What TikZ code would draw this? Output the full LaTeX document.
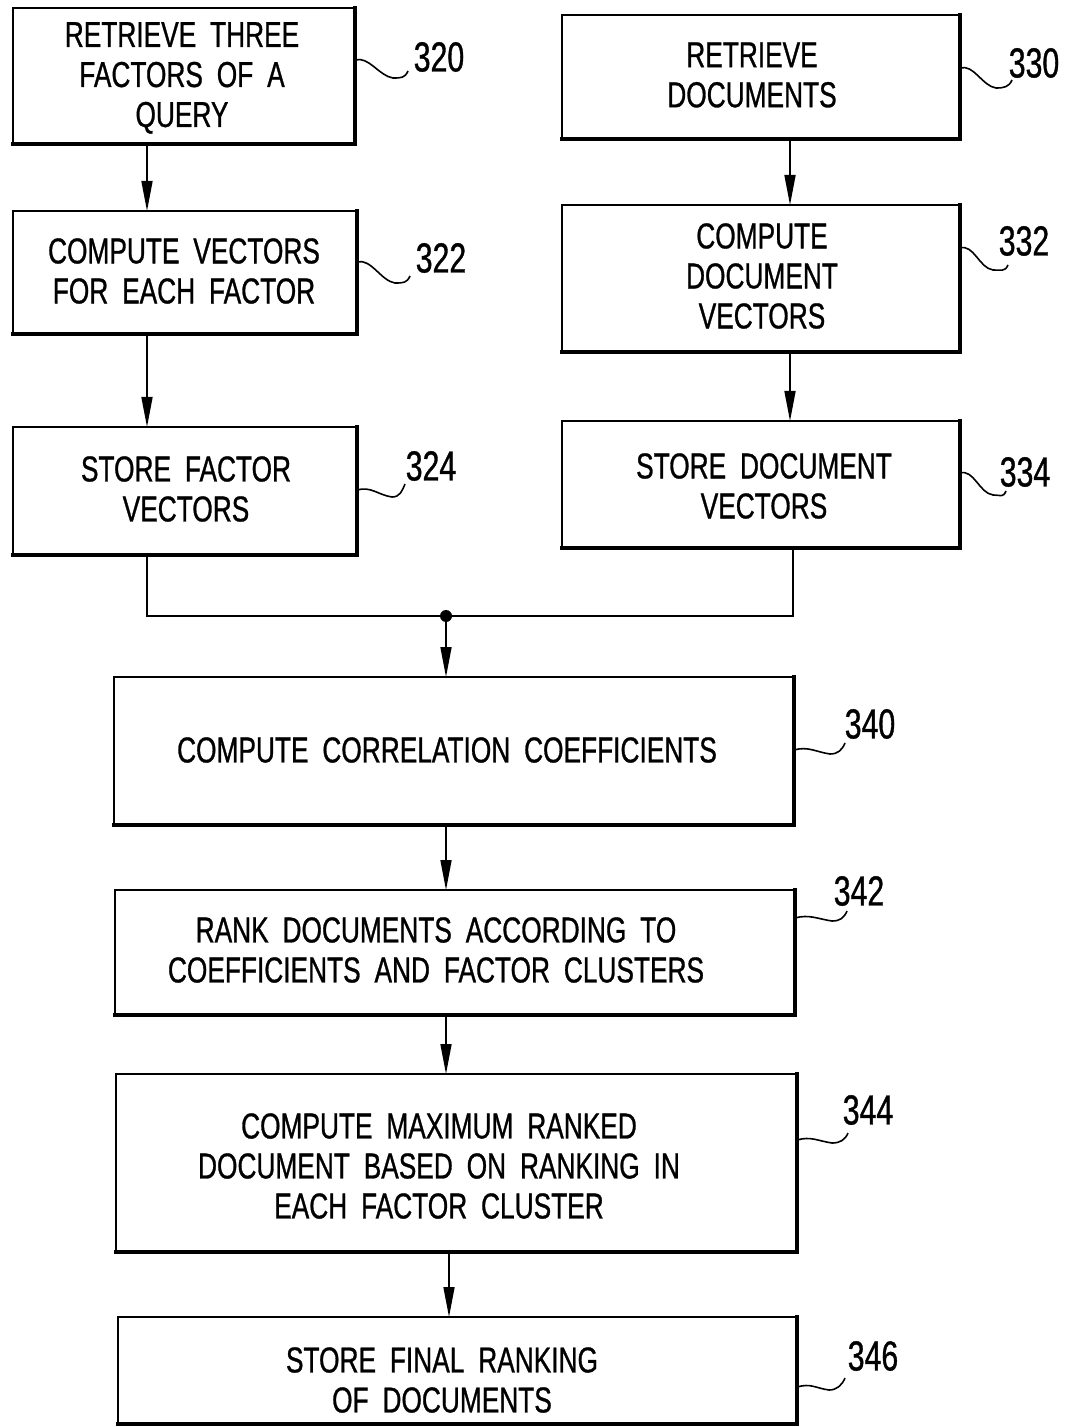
\documentclass[tikz,border=0pt]{standalone}
\usepackage{fontspec}
\setmainfont{Liberation Sans}[FakeStretch=0.73, WordSpace=1.9, FakeBold=0.8]
\newfontfamily\numfont{Liberation Sans}[FakeStretch=0.72, FakeBold=0.8]
\usetikzlibrary{arrows.meta,fit}
\tikzset{
  box/.style={draw, line width=0.8pt, inner sep=0pt, outer sep=0pt},
  edgeline/.style={line width=2.2pt, line cap=rect},
  txt/.style={font=\fontsize{18}{20}\selectfont, align=center, inner sep=0pt},
  lbl/.style={font=\numfont\fontsize{21}{22}\selectfont, inner sep=0pt},
  arr/.style={line width=0.8pt, -{Triangle[length=15pt,width=5.5pt]}},
  wire/.style={line width=0.8pt},
  sq/.style={line width=0.8pt}
}
\newcommand\shadowedge[1]{\draw[edgeline] (#1.south west) -- (#1.south east) -- (#1.north east);}
\newcommand\squig[3]{\draw[sq] #1 .. controls +(14,-4) and +(-14,-2) .. #2 .. controls +(8,0) and +(-3,7) .. #3;}
\begin{document}
\begin{tikzpicture}[x=0.5pt,y=-0.5pt]
\useasboundingbox (0,0) rectangle (1065,1427);
% boxes
\node[box, fit={(13,8) (355,144)}] (b320) {};
\node[box, fit={(562,15) (960,139)}] (b330) {};
\node[box, fit={(13,211) (357,334)}] (b322) {};
\node[box, fit={(562,205) (960,352)}] (b332) {};
\node[box, fit={(13,427) (357,555)}] (b324) {};
\node[box, fit={(562,421) (960,548)}] (b334) {};
\node[box, fit={(114,677) (794,825)}] (b340) {};
\node[box, fit={(115,890) (795,1015)}] (b342) {};
\node[box, fit={(116,1074) (797,1252)}] (b344) {};
\node[box, fit={(118,1317) (797,1424)}] (b346) {};
\foreach \n in {b320,b330,b322,b332,b324,b334,b340,b342,b344,b346} {\shadowedge{\n}}
% texts
\node[txt] (t320) at (182,78) {RETRIEVE THREE\\FACTORS OF A\\QUERY};
\node[txt] (t330) at (752,75) {RETRIEVE\\DOCUMENTS};
\node[txt] (t322) at (184,271) {COMPUTE VECTORS\\FOR EACH FACTOR};
\node[txt] (t332) at (762,276) {COMPUTE\\DOCUMENT\\VECTORS};
\node[txt] (t324) at (186,489) {STORE FACTOR\\VECTORS};
\node[txt] (t334) at (764,486) {STORE DOCUMENT\\VECTORS};
\node[txt] (t340) at (447,750) {COMPUTE CORRELATION COEFFICIENTS};
\node[txt] (t342) at (436,950) {RANK DOCUMENTS ACCORDING TO\\COEFFICIENTS AND FACTOR CLUSTERS};
\node[txt] (t344) at (439,1166) {COMPUTE MAXIMUM RANKED\\DOCUMENT BASED ON RANKING IN\\EACH FACTOR CLUSTER};
\node[txt] (t346) at (442,1380) {STORE FINAL RANKING\\OF DOCUMENTS};
% reference labels
\node[lbl] (l320) at (439,57) {320};
\node[lbl] (l330) at (1034,63) {330};
\node[lbl] (l322) at (441,258) {322};
\node[lbl] (l332) at (1024,241) {332};
\node[lbl] (l324) at (431,466) {324};
\node[lbl] (l334) at (1025,472) {334};
\node[lbl] (l340) at (870,724) {340};
\node[lbl] (l342) at (859,891) {342};
\node[lbl] (l344) at (868,1110) {344};
\node[lbl] (l346) at (873,1356) {346};
% leader squiggles
\squig{(b320.east |- 0,60)}{(393,78)}{(408,71)}
\squig{(b330.east |- 0,68)}{(996,88)}{(1012,80)}
\squig{(b322.east |- 0,262)}{(395,283)}{(410,276)}
\squig{(b332.east |- 0,248)}{(993,270)}{(1008,265)}
\squig{(b324.east |- 0,490)}{(392,497)}{(405,484)}
\squig{(b334.east |- 0,473)}{(993,495)}{(1006,491)}
\squig{(b340.east |- 0,750)}{(830,754)}{(845,743)}
\squig{(b342.east |- 0,918)}{(832,921)}{(847,911)}
\squig{(b344.east |- 0,1140)}{(832,1143)}{(848,1133)}
\squig{(b346.east |- 0,1387)}{(829,1390)}{(845,1378)}
% connectors
\coordinate (xL) at (147,0);
\coordinate (xR) at (790,0);
\coordinate (xR2) at (793,0);
\coordinate (j) at (446,616);
\coordinate (xB) at (449,0);
\draw[arr] (b320.south -| xL) -- (b322.north -| xL);
\draw[arr] (b322.south -| xL) -- (b324.north -| xL);
\draw[arr] (b330.south -| xR) -- (b332.north -| xR);
\draw[arr] (b332.south -| xR) -- (b334.north -| xR);
\draw[wire] (b324.south -| xL) |- (j) -| (b334.south -| xR2);
\fill (j) circle (3pt);
\draw[arr] (j) -- (b340.north -| j);
\draw[arr] (b340.south -| j) -- (b342.north -| j);
\draw[arr] (b342.south -| j) -- (b344.north -| j);
\draw[arr] (b344.south -| xB) -- (b346.north -| xB);
\end{tikzpicture}
\end{document}
